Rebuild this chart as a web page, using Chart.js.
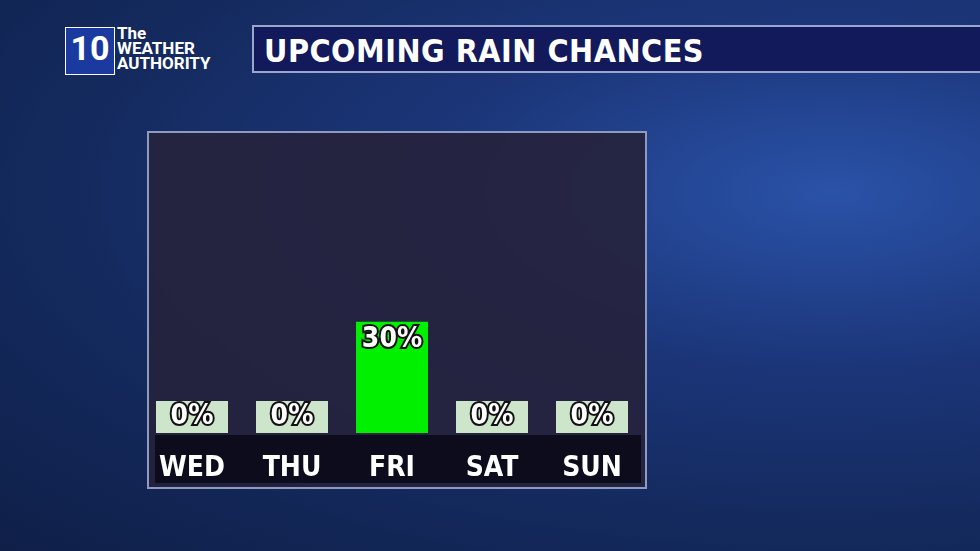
<!DOCTYPE html>
<html><head><meta charset="utf-8">
<script src="https://cdn.jsdelivr.net/npm/chart.js@4"></script>
<style>
body{margin:0;width:980px;height:551px;overflow:hidden;position:relative;font-family:Roboto,"DejaVu Sans",sans-serif;
background:radial-gradient(ellipse at 85% 35%,#2a52a8 0%,#1b3578 35%,#142a5e 65%,#0f1f48 100%);}
#logo{position:absolute;left:65px;top:27px;width:48px;height:46px;background:#1a3aa0;border:1px solid #fff;color:#fff;font:bold 34px Roboto;text-align:center;line-height:40px}
#logo2{position:absolute;left:117px;top:26px;color:#fff;font:bold 17px Roboto;line-height:15px}
#banner{position:absolute;left:252px;top:25px;width:728px;height:48px;background:#121a5c;border:2px solid #9aa6cc;border-right:none;box-sizing:border-box}
#banner span{position:absolute;left:10px;top:5px;color:#fff;font:bold 32px "DejaVu Sans Condensed",Roboto;letter-spacing:0.5px}
#panel{position:absolute;left:147px;top:131px;width:500px;height:358px;background:rgba(38,34,60,0.9);border:2px solid #8f9ac0;box-sizing:border-box}
#band{position:absolute;left:155px;top:435px;width:486px;height:48px;background:#0c0c1c}
#c{position:absolute;left:142px;top:131px}
</style></head><body>
<div id="logo">10</div>
<div id="logo2">The<br>WEATHER<br>AUTHORITY</div>
<div id="banner"><span>UPCOMING RAIN CHANCES</span></div>
<div id="panel"></div><div id="band"></div>
<canvas id="c" width="500" height="358" style="width:500px;height:358px"></canvas>
<script>
const days=["WED","THU","FRI","SAT","SUN"];
const chances=[0,0,30,0,0];
const labelPlugin={id:'lbl',afterDatasetsDraw(ch){
 const ctx=ch.ctx,meta=ch.getDatasetMeta(0),y=ch.scales.y;
 ctx.save();ctx.font='bold 28px "DejaVu Sans Condensed",Roboto';ctx.textAlign='center';ctx.textBaseline='middle';
 meta.data.forEach((b,i)=>{const v=chances[i];const top=b.y;
  if(v===0){ctx.fillStyle='rgba(215,240,210,0.95)';ctx.fillRect(b.x-36,y.getPixelForValue(0)-32,72,32);}
  const ty=v===0?y.getPixelForValue(0)-16:top+18;
  ctx.lineWidth=4;ctx.strokeStyle='#111';ctx.strokeText(chances[i]+'%',b.x,ty);
  ctx.fillStyle='#fff';ctx.fillText(chances[i]+'%',b.x,ty);});
 ctx.restore();}};
new Chart(document.getElementById('c'),{type:'bar',
data:{labels:days,datasets:[{data:chances,backgroundColor:'#00f000',barPercentage:0.72,categoryPercentage:1}]},
options:{responsive:false,animation:false,layout:{padding:0},
plugins:{legend:{display:false},tooltip:{enabled:false}},
scales:{y:{display:false,min:0,max:81.5},
x:{grid:{display:false},border:{display:false},afterFit(s){s.height=56;},ticks:{color:'#fff',font:{family:'"DejaVu Sans Condensed",Roboto',weight:'bold',size:28},padding:11}}}},
plugins:[labelPlugin]});
</script></body></html>
